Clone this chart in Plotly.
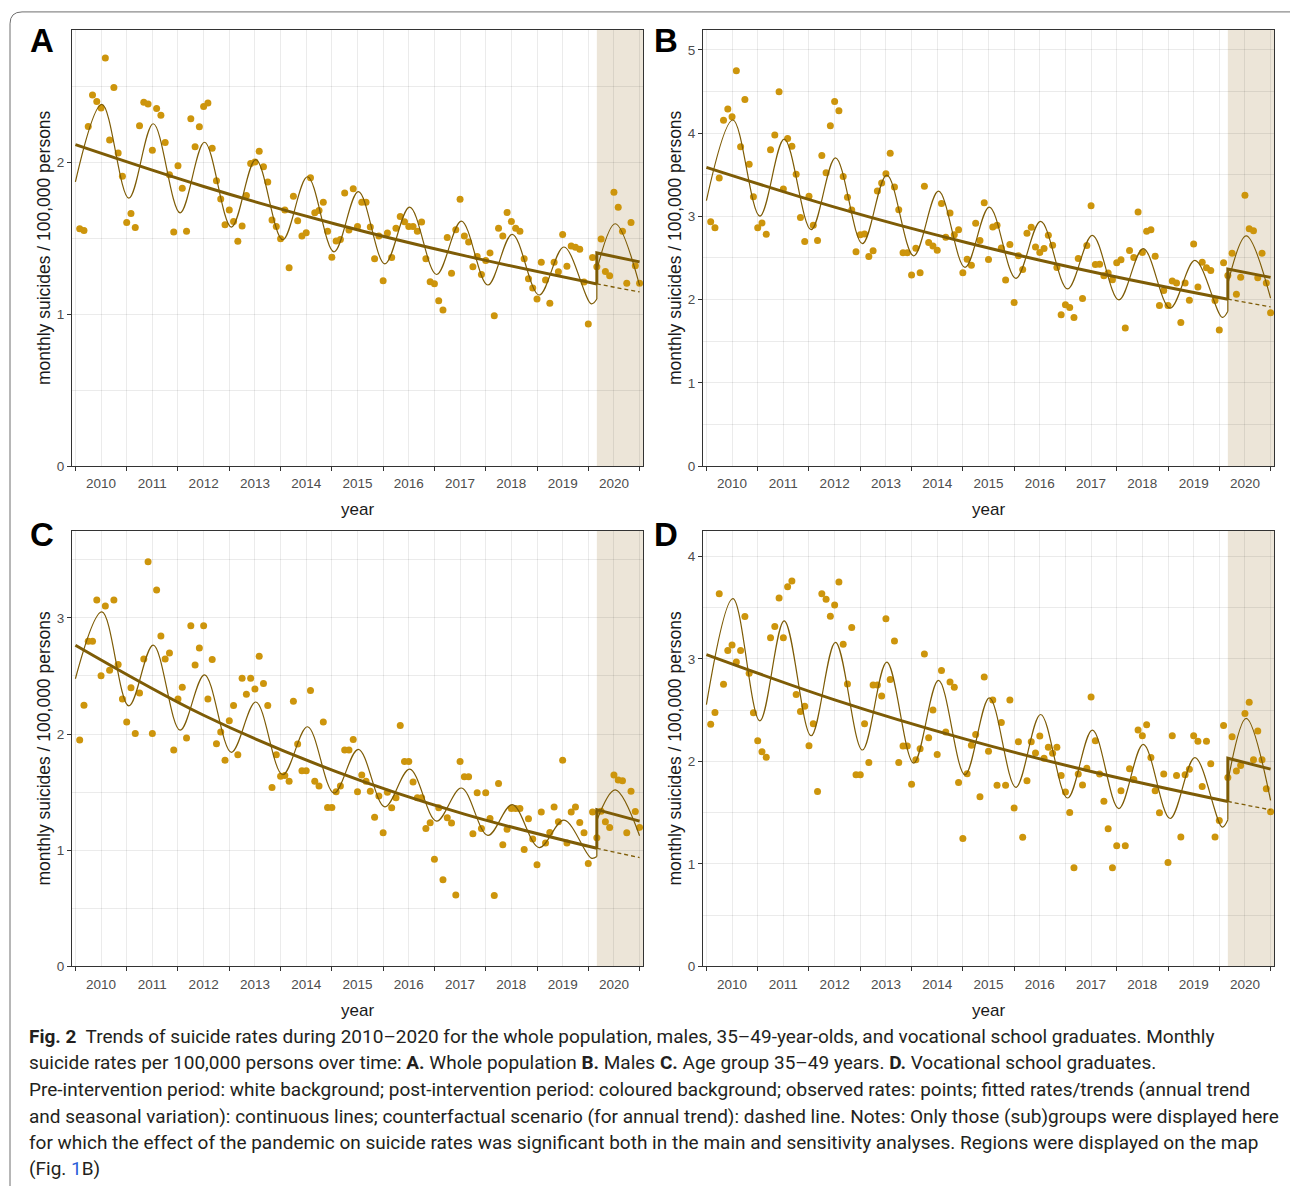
import plotly.graph_objects as go

W, H = 1290, 1194

# ---------------- data ----------------
months = list(range(1, 133))                      # Jan 2010 ... Dec 2020
year_labels = [str(y) for y in range(2010, 2021)]
intervention_month = 122

obs_A = [1.562, 1.551, 2.235, 2.442, 2.399, 2.357, 2.686, 2.146, 2.492, 2.061,
         1.908, 1.603, 1.662, 1.571, 2.240, 2.394, 2.383, 2.078, 2.353, 2.309,
         2.129, 1.917, 1.540, 1.976, 1.828, 1.545, 2.285, 2.102, 2.233, 2.366,
         2.390, 2.092, 1.878, 1.758, 1.588, 1.686, 1.610, 1.479, 1.580, 1.780,
         1.991, 2.002, 2.072, 1.970, 1.869, 1.619, 1.577, 1.497, 1.686, 1.305,
         1.776, 1.614, 1.514, 1.536, 1.898, 1.667, 1.682, 1.736, 1.545, 1.375,
         1.481, 1.492, 1.797, 1.553, 1.826, 1.577, 1.736, 1.736, 1.573, 1.364,
         1.514, 1.220, 1.534, 1.373, 1.566, 1.643, 1.608, 1.577, 1.577, 1.545,
         1.606, 1.364, 1.214, 1.200, 1.089, 1.028, 1.505, 1.270, 1.556, 1.756,
         1.514, 1.475, 1.312, 1.379, 1.261, 1.353, 1.403, 0.989, 1.566, 1.514,
         1.669, 1.610, 1.566, 1.545, 1.364, 1.233, 1.172, 1.100, 1.342, 1.224,
         1.072, 1.342, 1.279, 1.525, 1.316, 1.449, 1.440, 1.427, 1.211, 0.935,
         1.373, 1.312, 1.495, 1.281, 1.253, 1.802, 1.704, 1.545, 1.203, 1.603, 1.318, 1.203]

obs_B = [2.936, 2.864, 3.461, 4.153, 4.288, 4.197, 4.749, 3.835, 4.403, 3.624,
         3.234, 2.864, 2.920, 2.784, 3.799, 3.978, 4.495, 3.329, 3.934, 3.842,
         3.504, 2.987, 2.697, 3.242, 2.892, 2.709, 3.731, 3.524, 4.089, 4.379,
         4.268, 3.477, 3.230, 3.075, 2.574, 2.780, 2.788, 2.518, 2.586, 3.305,
         3.401, 3.512, 3.759, 3.353, 3.079, 2.562, 2.562, 2.295, 2.617, 2.323,
         3.361, 2.685, 2.645, 2.594, 3.154, 2.749, 3.039, 2.780, 2.840, 2.323,
         2.486, 2.414, 2.916, 2.709, 3.162, 2.482, 2.872, 2.892, 2.621, 2.236,
         2.661, 1.965, 2.526, 2.363, 2.796, 2.868, 2.633, 2.566, 2.613, 2.772,
         2.653, 2.387, 1.818, 1.937, 1.905, 1.786, 2.494, 2.013, 2.649, 3.126,
         2.422, 2.426, 2.287, 2.319, 2.239, 2.442, 2.478, 1.659, 2.589, 2.506,
         3.051, 2.566, 2.820, 2.840, 2.522, 1.929, 2.108, 1.929, 2.224, 2.200,
         1.726, 2.200, 1.993, 2.669, 2.152, 2.450, 2.383, 2.351, 1.989, 1.635,
         2.442, 2.291, 2.558, 2.064, 2.267, 3.254, 2.852, 2.828, 2.263, 2.558, 2.200, 1.842]

obs_C = [1.949, 2.248, 2.798, 2.798, 3.154, 2.501, 3.103, 2.550, 3.154, 2.598,
         2.302, 2.103, 2.399, 2.006, 2.353, 2.647, 3.484, 2.006, 3.239, 2.843,
         2.647, 2.698, 1.863, 2.302, 2.402, 1.966, 2.932, 2.595, 2.741, 2.932,
         2.302, 2.641, 1.917, 2.017, 1.775, 2.114, 2.245, 1.823, 2.481, 2.342,
         2.481, 2.387, 2.670, 2.436, 2.245, 1.541, 1.823, 1.638, 1.644, 1.595,
         2.282, 1.915, 1.684, 1.684, 2.376, 1.595, 1.553, 2.103, 1.368, 1.368,
         1.504, 1.553, 1.863, 1.863, 1.954, 1.504, 1.647, 1.593, 1.507, 1.285,
         1.467, 1.151, 1.499, 1.365, 1.453, 2.074, 1.764, 1.764, 1.587, 1.453,
         1.453, 1.188, 1.236, 0.923, 1.365, 0.746, 1.279, 1.234, 0.615, 1.764,
         1.632, 1.632, 1.142, 1.496, 1.188, 1.496, 1.274, 0.610, 1.575, 1.048,
         1.182, 1.359, 1.359, 1.359, 1.006, 1.271, 1.097, 0.875, 1.330, 1.063,
         1.154, 1.373, 1.245, 1.775, 1.063, 1.330, 1.373, 1.239, 1.151, 0.886,
         1.330, 1.108, 1.336, 1.245, 1.197, 1.647, 1.604, 1.598, 1.151, 1.507, 1.333, 1.197]

obs_D = [2.363, 2.476, 3.635, 2.751, 3.080, 3.135, 2.970, 3.080, 3.412, 2.860,
         2.473, 2.202, 2.095, 2.040, 3.206, 3.316, 3.593, 3.206, 3.703, 3.758,
         2.651, 2.486, 2.538, 2.153, 2.366, 1.705, 3.635, 3.580, 3.416, 3.525,
         3.748, 3.141, 2.754, 3.306, 1.869, 1.869, 2.366, 1.989, 2.744, 2.744,
         2.638, 3.390, 2.799, 3.174, 1.989, 2.150, 2.150, 1.776, 2.015, 2.124,
         3.048, 2.231, 2.502, 2.066, 2.886, 2.286, 2.773, 2.722, 1.795, 1.249,
         1.879, 2.157, 2.263, 1.656, 2.822, 2.098, 2.599, 1.766, 2.379, 1.766,
         2.599, 1.546, 2.192, 1.259, 1.811, 2.192, 2.082, 2.247, 2.031, 2.137,
         2.079, 2.137, 1.863, 1.701, 1.501, 0.962, 1.876, 1.769, 1.934, 2.628,
         2.202, 1.876, 1.611, 1.343, 0.962, 1.178, 1.714, 1.178, 1.927, 1.824,
         2.305, 2.250, 2.357, 2.037, 1.714, 1.498, 1.876, 1.014, 2.250, 1.863,
         1.262, 1.869, 1.924, 2.250, 2.195, 1.756, 2.195, 1.976, 1.262, 1.424,
         2.350, 1.843, 2.240, 1.905, 1.960, 2.466, 2.576, 2.015, 2.295, 2.015, 1.734, 1.508]

# fitted curve (trend + seasonality): values read at the curve's turning points
fit_pre_months = [0, 6.2, 12.5, 18.2, 24.5, 30.2, 36.5, 42.2, 48.5, 54.3, 60.5,
                  66.2, 72.4, 78.2, 84.5, 90.3, 96.5, 102.2, 108.5, 114.3, 120.7, 122]
fit_post_months = [122, 126.3, 132]
fit_pre_A = [1.87, 2.38, 1.763, 2.253, 1.667, 2.131, 1.573, 2.017, 1.49, 1.904, 1.41,
             1.806, 1.331, 1.704, 1.261, 1.612, 1.192, 1.525, 1.126, 1.442, 1.068, 1.10]
fit_post_A = [1.29, 1.595, 1.19]
fit_pre_B = [3.19, 4.157, 3.003, 3.926, 2.84, 3.703, 2.673, 3.496, 2.526, 3.302, 2.387,
             3.111, 2.255, 2.94, 2.128, 2.772, 1.997, 2.613, 1.897, 2.47, 1.786, 1.86]
fit_post_B = [2.19, 2.765, 2.017]
fit_pre_C = [2.476, 3.051, 2.242, 2.766, 2.034, 2.51, 1.843, 2.276, 1.65, 2.063, 1.493,
             1.869, 1.373, 1.698, 1.251, 1.536, 1.128, 1.393, 1.023, 1.259, 0.932, 0.947]
fit_post_C = [1.257, 1.52, 1.125]
fit_pre_D = [2.554, 3.587, 2.395, 3.37, 2.25, 3.161, 2.111, 2.967, 1.982, 2.789, 1.869,
             2.62, 1.747, 2.457, 1.643, 2.305, 1.54, 2.166, 1.443, 2.037, 1.359, 1.43]
fit_post_D = [1.80, 2.42, 1.62]

# annual trend (pre-intervention), post-intervention trend and counterfactual
trend_months = [0, 30, 61, 91, 122]
trend_A = [2.115, 1.840, 1.592, 1.385, 1.199]
trend_B = [3.588, 3.110, 2.682, 2.325, 2.005]
trend_C = [2.765, 2.162, 1.677, 1.311, 1.017]
trend_D = [3.041, 2.600, 2.212, 1.892, 1.609]
post_months = [122, 132]
post_A = [1.403, 1.344]
post_B = [2.367, 2.267]
post_C = [1.350, 1.251]
post_D = [2.031, 1.924]
cf_A = [1.199, 1.146]
cf_B = [2.005, 1.912]
cf_C = [1.017, 0.937]
cf_D = [1.609, 1.527]

y_max = {"A": 2.871, "B": 5.24, "C": 3.75, "D": 4.249}

# ---------------- style ----------------
PT = "#CD950C"
LN = "#7E5C06"
SHADE = "#ECE5D8"
GRID = "rgba(0,0,0,0.08)"
AX = "#333333"
FONT = "Liberation Sans, Arial, Helvetica, sans-serif"

def px(x):
    return x / W

def py(y):
    return 1 - y / H

x_dom = {"A": [72, 643], "B": [703, 1274], "C": [72, 643], "D": [703, 1274]}
y_dom = {"A": [30, 469.3], "B": [30, 469.3], "C": [534.3, 973], "D": [534.3, 973]}
x_range = [-0.8, 132.8]

panels = [
    ("A", obs_A, fit_pre_A, fit_post_A, trend_A, post_A, cf_A),
    ("B", obs_B, fit_pre_B, fit_post_B, trend_B, post_B, cf_B),
    ("C", obs_C, fit_pre_C, fit_post_C, trend_C, post_C, cf_C),
    ("D", obs_D, fit_pre_D, fit_post_D, trend_D, post_D, cf_D),
]

fig = go.Figure()
shapes = []
annotations = []
layout = {}

for i, (key, obs, fpre, fpost, tr, post, cf) in enumerate(panels):
    xa = "x" if i == 0 else f"x{i+1}"
    ya = "y" if i == 0 else f"y{i+1}"
    xname = "xaxis" if i == 0 else f"xaxis{i+1}"
    yname = "yaxis" if i == 0 else f"yaxis{i+1}"

    fig.add_trace(go.Scatter(x=months, y=obs, mode="markers", xaxis=xa, yaxis=ya,
                             marker=dict(color=PT, size=7, line=dict(width=0)),
                             showlegend=False, hoverinfo="skip"))
    # annual trend
    fig.add_trace(go.Scatter(x=trend_months, y=tr, mode="lines", xaxis=xa, yaxis=ya,
                             line=dict(color=LN, width=3, shape="spline"),
                             showlegend=False, hoverinfo="skip"))
    fig.add_trace(go.Scatter(x=[trend_months[-1]] + post_months, y=[tr[-1]] + post,
                             mode="lines", xaxis=xa, yaxis=ya,
                             line=dict(color=LN, width=3),
                             showlegend=False, hoverinfo="skip"))
    # counterfactual
    fig.add_trace(go.Scatter(x=post_months, y=cf, mode="lines", xaxis=xa, yaxis=ya,
                             line=dict(color=LN, width=1.3, dash="4px,3px"),
                             showlegend=False, hoverinfo="skip"))
    # fitted seasonal curve
    fig.add_trace(go.Scatter(x=fit_pre_months, y=fpre, mode="lines", xaxis=xa, yaxis=ya,
                             line=dict(color=LN, width=1.2, shape="spline", smoothing=1.0),
                             showlegend=False, hoverinfo="skip"))
    fig.add_trace(go.Scatter(x=[fit_pre_months[-1], fit_post_months[0]], y=[fpre[-1], fpost[0]],
                             mode="lines", xaxis=xa, yaxis=ya,
                             line=dict(color=LN, width=1.2),
                             showlegend=False, hoverinfo="skip"))
    fig.add_trace(go.Scatter(x=fit_post_months, y=fpost, mode="lines", xaxis=xa, yaxis=ya,
                             line=dict(color=LN, width=1.2, shape="spline", smoothing=1.0),
                             showlegend=False, hoverinfo="skip"))

    ymax = y_max[key]
    layout[xname] = dict(
        domain=[px(x_dom[key][0]), px(x_dom[key][1])], anchor=ya, range=x_range,
        tickmode="array", tickvals=[6 + 12 * k for k in range(len(year_labels))],
        ticktext=year_labels, ticks="outside", ticklen=5, tickcolor="rgba(0,0,0,0)",
        showgrid=True, gridcolor=GRID, gridwidth=1,
        minor=dict(tickmode="array", tickvals=[12 * k for k in range(len(year_labels) + 1)],
                   ticks="outside", ticklen=4, tickcolor=AX, tickwidth=1,
                   showgrid=True, gridcolor=GRID, gridwidth=1),
        showline=True, mirror=True, linecolor=AX, linewidth=1, zeroline=False,
        tickfont=dict(family=FONT, size=13.5, color="#4D4D4D"), fixedrange=True)
    layout[yname] = dict(
        domain=[py(y_dom[key][1]), py(y_dom[key][0])], anchor=xa, range=[0, ymax],
        tickmode="linear", tick0=0, dtick=1, ticks="outside", ticklen=4, tickcolor=AX,
        showgrid=True, gridcolor=GRID, gridwidth=1,
        minor=dict(dtick=0.5, showgrid=True, gridcolor=GRID, gridwidth=1),
        showline=True, mirror=True, linecolor=AX, linewidth=1, zeroline=False,
        tickfont=dict(family=FONT, size=13.5, color="#4D4D4D"), fixedrange=True)

    shapes.append(dict(type="rect", xref=xa, yref=ya, x0=intervention_month, x1=x_range[1],
                       y0=0, y1=ymax, fillcolor=SHADE, line=dict(width=0), layer="below"))

    # panel letter, axis titles
    lx = 42 if key in ("A", "C") else 666
    ly = 41 if key in ("A", "B") else 538
    annotations.append(dict(text=f"<b>{key}</b>", x=px(lx), y=py(ly), xref="paper", yref="paper",
                            showarrow=False, xanchor="center", yanchor="middle",
                            font=dict(family=FONT, size=33, color="black")))
    x0, x1 = x_dom[key]
    y0, y1 = y_dom[key]
    tx = 44 if key in ("A", "C") else 675
    annotations.append(dict(text="monthly suicides / 100,000 persons", textangle=-90,
                            x=px(tx), y=py((y0 + y1) / 2), xref="paper", yref="paper",
                            showarrow=False, xanchor="center", yanchor="middle",
                            font=dict(family=FONT, size=17.5, color="#1A1A1A")))
    annotations.append(dict(text="year", x=px((x0 + x1) / 2), y=py(y1 + 44),
                            xref="paper", yref="paper", showarrow=False,
                            xanchor="center", yanchor="middle",
                            font=dict(family=FONT, size=17, color="#1A1A1A")))

# caption
caption_lines = [
    "<b>Fig. 2</b>  Trends of suicide rates during 2010–2020 for the whole population, males, 35–49-year-olds, and vocational school graduates. Monthly",
    "suicide rates per 100,000 persons over time: <b>A.</b> Whole population <b>B.</b> Males <b>C.</b> Age group 35–49 years. <b>D.</b> Vocational school graduates.",
    "Pre-intervention period: white background; post-intervention period: coloured background; observed rates: points; fitted rates/trends (annual trend",
    "and seasonal variation): continuous lines; counterfactual scenario (for annual trend): dashed line. Notes: Only those (sub)groups were displayed here",
    "for which the effect of the pandemic on suicide rates was significant both in the main and sensitivity analyses. Regions were displayed on the map",
    "(Fig. <span style='color:#2B5FD9'>1</span>B)",
]
caption_y = [1043, 1070, 1097, 1124, 1150, 1176]
for line, yy in zip(caption_lines, caption_y):
    annotations.append(dict(text=line, x=px(27), y=py(yy), xref="paper", yref="paper",
                            showarrow=False, xanchor="left", yanchor="middle", align="left",
                            font=dict(family="Roboto, Open Sans, sans-serif", size=19, color="#231F20")))

# outer figure frame (rounded top-left corner)
shapes.append(dict(type="path", xref="paper", yref="paper",
                   path=f"M {px(10)},{py(1194)} L {px(10)},{py(24)} Q {px(10)},{py(12)} {px(22)},{py(12)} L {px(1290)},{py(12)}",
                   line=dict(color="#6E6E6E", width=1)))

fig.update_layout(width=W, height=H, autosize=False,
                  margin=dict(l=0, r=0, t=0, b=0),
                  paper_bgcolor="white", plot_bgcolor="white",
                  shapes=shapes, annotations=annotations, showlegend=False,
                  **layout)

fig.write_html("out.html", include_plotlyjs=True, full_html=True,
               config={"displayModeBar": False, "staticPlot": True},
               post_script="document.body.style.margin='0';document.body.style.overflow='hidden';")
